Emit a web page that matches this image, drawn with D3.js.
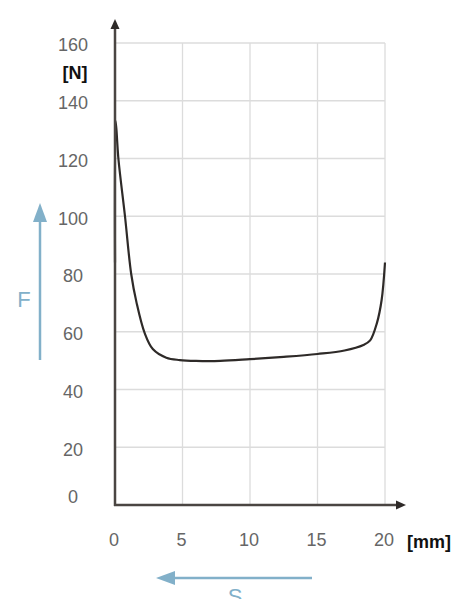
<html>
<head>
<title>Force - travel curve</title>
<script type="text/javascript" src="https://d3js.org/d3.v7.min.js"></script>
<style>
  body { margin: 0; background: #fff; }
</style>
</head>
<body>
<script type="text/javascript">
  var width = 471;
  var height = 599;

  // data: travel s [mm] and force F [N]
  var travel = [0, 0.05, 0.25, 0.74, 1.2, 1.6, 2.2, 2.8, 3.8, 4.8, 6, 7.8, 10, 12.5, 15, 17, 18.4, 18.9, 19.4, 19.75, 20];
  var force  = [84, 133, 120, 100, 80, 70, 59.5, 54, 51, 50.2, 49.9, 49.9, 50.5, 51.3, 52.3, 53.5, 55.4, 57, 63, 71, 84];
  var xTicks = [0, 5, 10, 15, 20];
  var yTicks = [0, 20, 40, 60, 80, 100, 120, 140, 160];

  var blue = "#82b0c9";

  var x = d3.scaleLinear().domain([0, 20]).range([115, 385]);
  var y = d3.scaleLinear().domain([0, 160]).range([505, 43]);

  var svg = d3.select("body")
              .append("svg")
              .attr("width", width)
              .attr("height", height)
              .style("font-family", "'Liberation Sans', Arial, sans-serif");

  // grid
  svg.append("g").selectAll("line")
     .data(yTicks.slice(1))
     .enter().append("line")
     .attr("x1", x(0)).attr("x2", x(20))
     .attr("y1", function(d){ return y(d); })
     .attr("y2", function(d){ return y(d); })
     .attr("stroke", "#dcdcdc").attr("stroke-width", 1.3);

  svg.append("g").selectAll("line")
     .data(xTicks.slice(1))
     .enter().append("line")
     .attr("y1", y(0)).attr("y2", y(160))
     .attr("x1", function(d){ return x(d); })
     .attr("x2", function(d){ return x(d); })
     .attr("stroke", "#dcdcdc").attr("stroke-width", 1.3);

  // tick labels
  svg.append("g").selectAll("text")
     .data(yTicks)
     .enter().append("text")
     .attr("x", 73)
     .attr("y", function(d){ return d === 0 ? y(d) - 8 : y(d) + 2; })
     .attr("dy", "0.35em")
     .attr("text-anchor", "middle")
     .attr("font-size", 18)
     .attr("fill", "#666")
     .text(function(d){ return d; });

  svg.append("g").selectAll("text")
     .data(xTicks)
     .enter().append("text")
     .attr("x", function(d){ return x(d) - 1; })
     .attr("y", 540)
     .attr("dy", "0.35em")
     .attr("text-anchor", "middle")
     .attr("font-size", 18)
     .attr("fill", "#666")
     .text(function(d){ return d; });

  // unit labels
  svg.append("text").attr("x", 75).attr("y", 73).attr("dy", "0.35em")
     .attr("text-anchor", "middle").attr("font-size", 18).attr("font-weight", "bold")
     .attr("fill", "#111").text("[N]");
  svg.append("text").attr("x", 407).attr("y", 542).attr("dy", "0.35em")
     .attr("font-size", 18).attr("font-weight", "bold")
     .attr("fill", "#111").text("[mm]");

  // curve
  var pts = travel.map(function(d, i){ return [d, force[i]]; });
  var line = d3.line()
               .x(function(d){ return x(d[0]); })
               .y(function(d){ return y(d[1]); })
               .curve(d3.curveCatmullRom.alpha(0.5));
  svg.append("path")
     .datum(pts)
     .attr("d", line)
     .attr("fill", "none")
     .attr("stroke", "#2e2a28")
     .attr("stroke-width", 2.2);

  // axes with arrows
  var axisCol = "#4a4542";
  svg.append("line")
     .attr("x1", x(0)).attr("x2", x(0))
     .attr("y1", y(0) + 1).attr("y2", 28)
     .attr("stroke", axisCol).attr("stroke-width", 2.5);
  svg.append("path")
     .attr("d", "M" + x(0) + ",19 l-4.5,10 l9,0 z")
     .attr("fill", "#2e2a28");
  svg.append("line")
     .attr("x1", x(0) - 1).attr("x2", 397)
     .attr("y1", y(0)).attr("y2", y(0))
     .attr("stroke", axisCol).attr("stroke-width", 2.5);
  svg.append("path")
     .attr("d", "M406," + y(0) + " l-10,-4.5 l0,9 z")
     .attr("fill", "#2e2a28");

  // F arrow
  svg.append("line")
     .attr("x1", 40).attr("x2", 40).attr("y1", 360).attr("y2", 218)
     .attr("stroke", blue).attr("stroke-width", 2.5);
  svg.append("path")
     .attr("d", "M40,203 l-7,19 l14,0 z")
     .attr("fill", blue);
  svg.append("text").attr("x", 24).attr("y", 299).attr("dy", "0.35em")
     .attr("text-anchor", "middle").attr("font-size", 22)
     .attr("fill", blue).text("F");

  // S arrow (label runs off the bottom edge, as in the original)
  svg.append("line")
     .attr("x1", 312).attr("x2", 172).attr("y1", 578).attr("y2", 578)
     .attr("stroke", blue).attr("stroke-width", 2.5);
  svg.append("path")
     .attr("d", "M156,578 l19,-7 l0,14 z")
     .attr("fill", blue);
  svg.append("text").attr("x", 235).attr("y", 604)
     .attr("text-anchor", "middle").attr("font-size", 22)
     .attr("fill", blue).text("S");
</script>
</body>
</html>
